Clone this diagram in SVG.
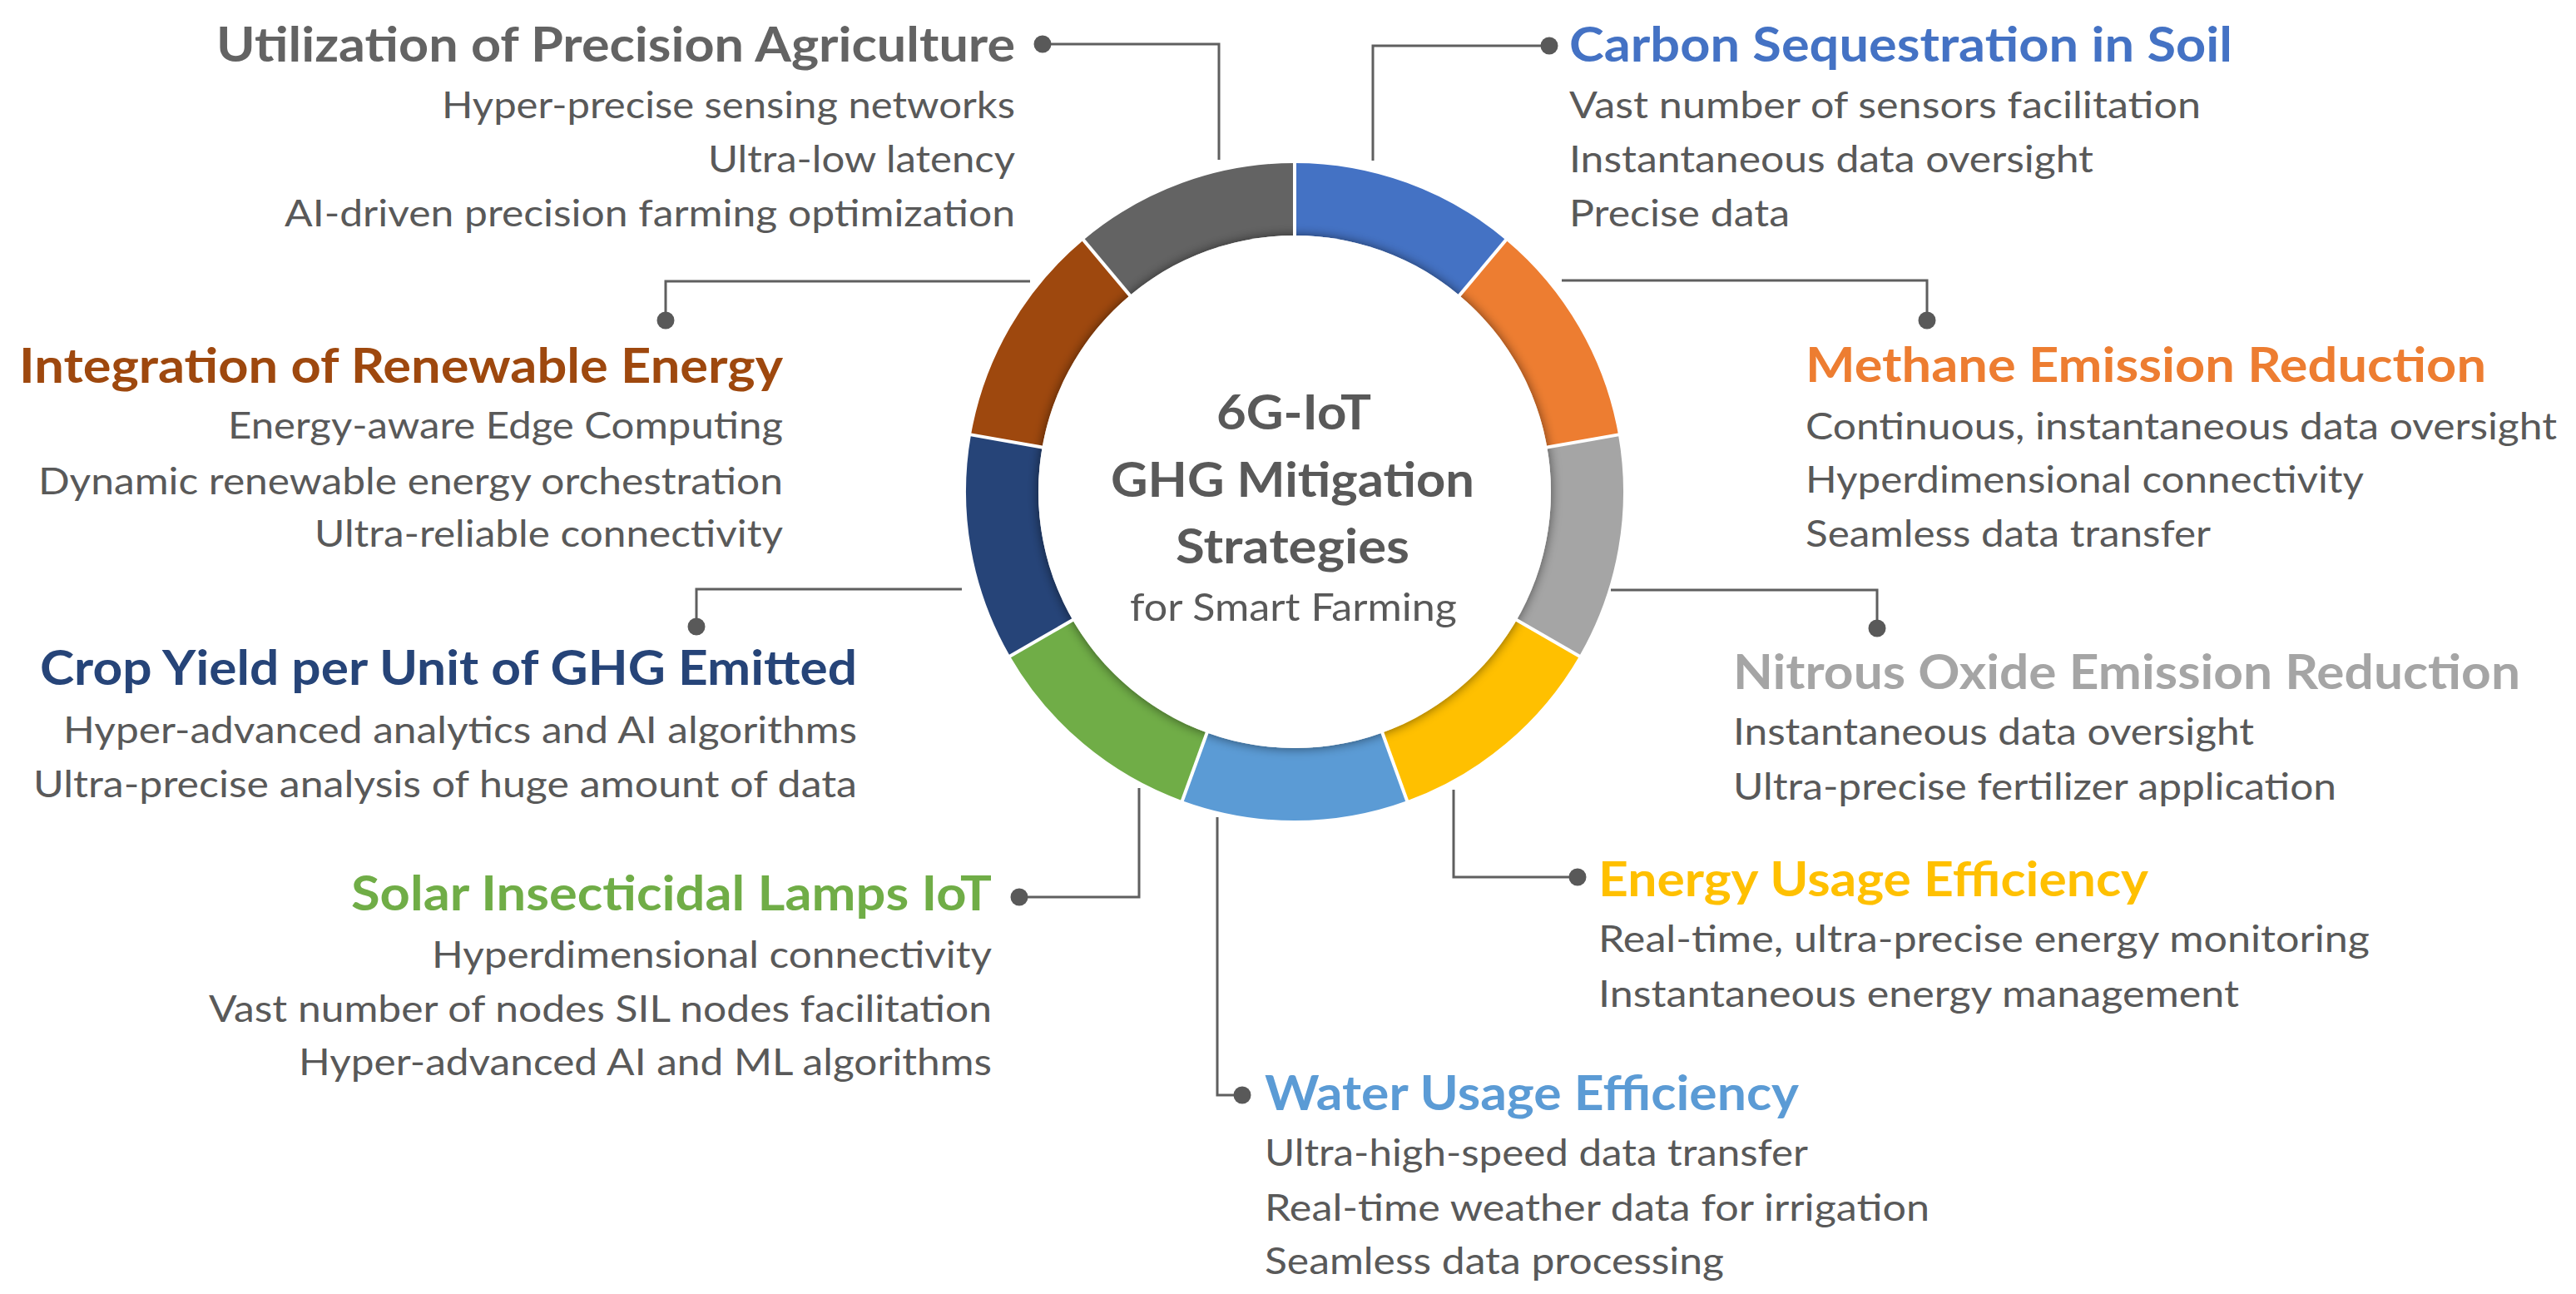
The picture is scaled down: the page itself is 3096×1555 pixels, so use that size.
<svg xmlns="http://www.w3.org/2000/svg" width="3096" height="1555" viewBox="0 0 3096 1555">
<defs>
<style>
.t{font-family:Lato,"Liberation Sans",sans-serif;font-weight:700;font-size:58px}
.s{font-family:Lato,"Liberation Sans",sans-serif;font-weight:400;font-size:44px;fill:#595959}
.c{font-family:Lato,"Liberation Sans",sans-serif;font-weight:700;font-size:58px;fill:#595959}
.cn{fill:none;stroke:#5f5f5f;stroke-width:3}
.dot{fill:#595959}
.sep{stroke:#ffffff;stroke-width:4}
</style>
<filter id="halo" x="-20%" y="-20%" width="140%" height="140%">
<feGaussianBlur in="SourceAlpha" stdDeviation="7"/>
<feComponentTransfer><feFuncA type="linear" slope="0.55"/></feComponentTransfer>
<feMerge><feMergeNode/><feMergeNode in="SourceGraphic"/></feMerge>
</filter>
</defs>
<rect width="3096" height="1555" fill="#ffffff"/>

<g id="connectors">
<path class="cn" d="M1253,53 H1465 V192"/><circle class="dot" cx="1253" cy="53" r="10.5"/>
<path class="cn" d="M1862,55 H1650 V193"/><circle class="dot" cx="1862" cy="55" r="10.5"/>
<path class="cn" d="M800,385 V338 H1238"/><circle class="dot" cx="800" cy="385" r="10.5"/>
<path class="cn" d="M837,753 V708 H1156"/><circle class="dot" cx="837" cy="753" r="10.5"/>
<path class="cn" d="M1225,1078 H1369 V947"/><circle class="dot" cx="1225" cy="1078" r="10.5"/>
<path class="cn" d="M1493,1316 H1463 V982"/><circle class="dot" cx="1493" cy="1316" r="10.5"/>
<path class="cn" d="M1896,1054 H1747 V949"/><circle class="dot" cx="1896" cy="1054" r="10.5"/>
<path class="cn" d="M2256,755 V709 H1936"/><circle class="dot" cx="2256" cy="755" r="10.5"/>
<path class="cn" d="M2316,385 V337 H1877"/><circle class="dot" cx="2316" cy="385" r="10.5"/>
</g>

<g id="ring">
<path fill="#4472C4" d="M1556,196 A395,395 0 0 1 1809.9,288.4 L1754.0,355.1 A308,308 0 0 0 1556,283 Z"/>
<path fill="#ED7D31" d="M1809.9,288.4 A395,395 0 0 1 1945.0,522.4 L1859.3,537.5 A308,308 0 0 0 1754.0,355.1 Z"/>
<path fill="#A5A5A5" d="M1945.0,522.4 A395,395 0 0 1 1898.1,788.5 L1822.7,745.0 A308,308 0 0 0 1859.3,537.5 Z"/>
<path fill="#FFC000" d="M1898.1,788.5 A395,395 0 0 1 1691.1,962.2 L1661.3,880.4 A308,308 0 0 0 1822.7,745.0 Z"/>
<path fill="#5B9BD5" d="M1691.1,962.2 A395,395 0 0 1 1420.9,962.2 L1450.7,880.4 A308,308 0 0 0 1661.3,880.4 Z"/>
<path fill="#70AD47" d="M1420.9,962.2 A395,395 0 0 1 1213.9,788.5 L1289.3,745.0 A308,308 0 0 0 1450.7,880.4 Z"/>
<path fill="#264478" d="M1213.9,788.5 A395,395 0 0 1 1167.0,522.4 L1252.7,537.5 A308,308 0 0 0 1289.3,745.0 Z"/>
<path fill="#9E480E" d="M1167.0,522.4 A395,395 0 0 1 1302.1,288.4 L1358.0,355.1 A308,308 0 0 0 1252.7,537.5 Z"/>
<path fill="#636363" d="M1302.1,288.4 A395,395 0 0 1 1556,196 L1556,283 A308,308 0 0 0 1358.0,355.1 Z"/>
<circle cx="1556" cy="591" r="308" fill="#ffffff" filter="url(#halo)"/>
<g class="sep">
<line x1="1556" y1="193" x2="1556" y2="290"/>
<line x1="1811.8" y1="286.1" x2="1749.5" y2="360.4"/>
<line x1="1948" y1="521.9" x2="1852.4" y2="538.7"/>
<line x1="1900.7" y1="790" x2="1816.7" y2="741.5"/>
<line x1="1692.1" y1="965" x2="1658.9" y2="873.8"/>
<line x1="1419.9" y1="965" x2="1453.1" y2="873.8"/>
<line x1="1211.3" y1="790" x2="1295.3" y2="741.5"/>
<line x1="1164" y1="521.9" x2="1259.6" y2="538.7"/>
<line x1="1300.2" y1="286.1" x2="1362.5" y2="360.4"/>
</g>
</g>

<g id="center">
<text class="c" x="1462" y="516" textLength="186" lengthAdjust="spacingAndGlyphs">6G-IoT</text>
<text class="c" x="1335" y="597" textLength="437" lengthAdjust="spacingAndGlyphs">GHG Mitigation</text>
<text class="c" x="1413" y="677" textLength="281" lengthAdjust="spacingAndGlyphs">Strategies</text>
<text class="s" x="1358" y="746" textLength="393" lengthAdjust="spacingAndGlyphs" style="font-size:46px">for Smart Farming</text>
</g>

<g id="utilization">
<text class="t" fill="#636363" x="260" y="74" textLength="960" lengthAdjust="spacingAndGlyphs">Utilization of Precision Agriculture</text>
<text class="s" x="531" y="142" textLength="689" lengthAdjust="spacingAndGlyphs">Hyper-precise sensing networks</text>
<text class="s" x="851" y="207" textLength="369" lengthAdjust="spacingAndGlyphs">Ultra-low latency</text>
<text class="s" x="342" y="272" textLength="878" lengthAdjust="spacingAndGlyphs">AI-driven precision farming optimization</text>
</g>

<g id="carbon">
<text class="t" fill="#4472C4" x="1886" y="74" textLength="797" lengthAdjust="spacingAndGlyphs">Carbon Sequestration in Soil</text>
<text class="s" x="1886" y="142" textLength="759" lengthAdjust="spacingAndGlyphs">Vast number of sensors facilitation</text>
<text class="s" x="1886" y="207" textLength="630" lengthAdjust="spacingAndGlyphs">Instantaneous data oversight</text>
<text class="s" x="1886" y="272" textLength="265" lengthAdjust="spacingAndGlyphs">Precise data</text>
</g>

<g id="integration">
<text class="t" fill="#9E480E" x="23" y="460" textLength="918" lengthAdjust="spacingAndGlyphs">Integration of Renewable Energy</text>
<text class="s" x="274" y="527" textLength="667" lengthAdjust="spacingAndGlyphs">Energy-aware Edge Computing</text>
<text class="s" x="46" y="594" textLength="895" lengthAdjust="spacingAndGlyphs">Dynamic renewable energy orchestration</text>
<text class="s" x="378" y="657" textLength="563" lengthAdjust="spacingAndGlyphs">Ultra-reliable connectivity</text>
</g>

<g id="methane">
<text class="t" fill="#ED7D31" x="2170" y="459" textLength="818" lengthAdjust="spacingAndGlyphs">Methane Emission Reduction</text>
<text class="s" x="2170" y="528" textLength="903" lengthAdjust="spacingAndGlyphs">Continuous, instantaneous data oversight</text>
<text class="s" x="2170" y="592" textLength="671" lengthAdjust="spacingAndGlyphs">Hyperdimensional connectivity</text>
<text class="s" x="2170" y="657" textLength="487" lengthAdjust="spacingAndGlyphs">Seamless data transfer</text>
</g>

<g id="crop-yield">
<text class="t" fill="#264478" x="48" y="823" textLength="982" lengthAdjust="spacingAndGlyphs">Crop Yield per Unit of GHG Emitted</text>
<text class="s" x="76" y="893" textLength="954" lengthAdjust="spacingAndGlyphs">Hyper-advanced analytics and AI algorithms</text>
<text class="s" x="40" y="958" textLength="990" lengthAdjust="spacingAndGlyphs">Ultra-precise analysis of huge amount of data</text>
</g>

<g id="nitrous">
<text class="t" fill="#A5A5A5" x="2083" y="828" textLength="946" lengthAdjust="spacingAndGlyphs">Nitrous Oxide Emission Reduction</text>
<text class="s" x="2083" y="895" textLength="626" lengthAdjust="spacingAndGlyphs">Instantaneous data oversight</text>
<text class="s" x="2083" y="961" textLength="725" lengthAdjust="spacingAndGlyphs">Ultra-precise fertilizer application</text>
</g>

<g id="solar">
<text class="t" fill="#70AD47" x="422" y="1094" textLength="770" lengthAdjust="spacingAndGlyphs">Solar Insecticidal Lamps IoT</text>
<text class="s" x="519" y="1163" textLength="673" lengthAdjust="spacingAndGlyphs">Hyperdimensional connectivity</text>
<text class="s" x="251" y="1228" textLength="941" lengthAdjust="spacingAndGlyphs">Vast number of nodes SIL nodes facilitation</text>
<text class="s" x="359" y="1292" textLength="833" lengthAdjust="spacingAndGlyphs">Hyper-advanced AI and ML algorithms</text>
</g>

<g id="energy">
<text class="t" fill="#FFC000" x="1921" y="1077" textLength="661" lengthAdjust="spacingAndGlyphs">Energy Usage Efficiency</text>
<text class="s" x="1921" y="1144" textLength="927" lengthAdjust="spacingAndGlyphs">Real-time, ultra-precise energy monitoring</text>
<text class="s" x="1921" y="1210" textLength="770" lengthAdjust="spacingAndGlyphs">Instantaneous energy management</text>
</g>

<g id="water">
<text class="t" fill="#5B9BD5" x="1520" y="1334" textLength="642" lengthAdjust="spacingAndGlyphs">Water Usage Efficiency</text>
<text class="s" x="1520" y="1401" textLength="653" lengthAdjust="spacingAndGlyphs">Ultra-high-speed data transfer</text>
<text class="s" x="1520" y="1467" textLength="799" lengthAdjust="spacingAndGlyphs">Real-time weather data for irrigation</text>
<text class="s" x="1520" y="1531" textLength="552" lengthAdjust="spacingAndGlyphs">Seamless data processing</text>
</g>
</svg>
